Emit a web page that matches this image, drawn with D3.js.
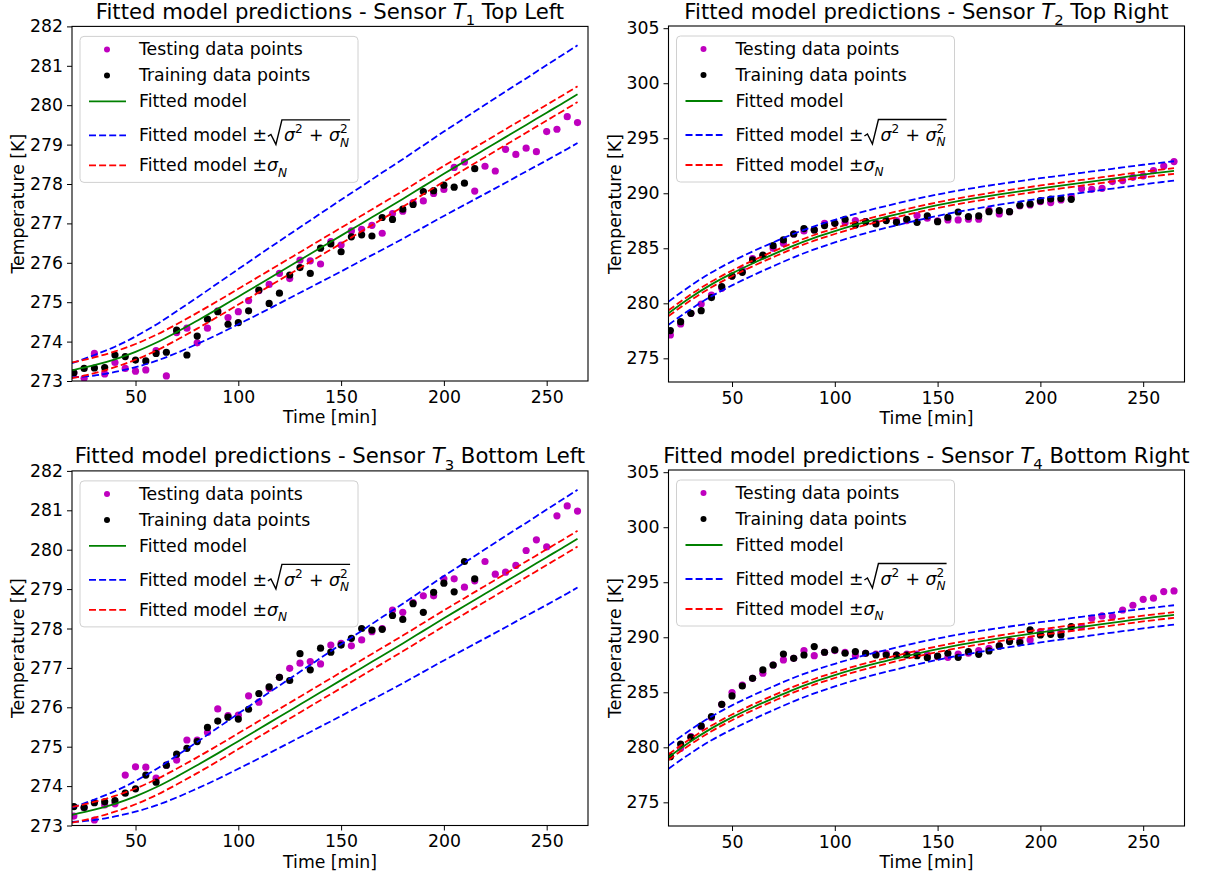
<!DOCTYPE html>
<html><head><meta charset="utf-8">
<script src="https://cdn.jsdelivr.net/npm/d3@7"></script>
<style>
body{margin:0;background:#fff}
svg{display:block}
text{font-family:"DejaVu Sans","Liberation Sans",sans-serif;white-space:pre}
</style>
</head><body>
<svg id="chart" width="1205" height="877"></svg>
<script>
// ---------- data ----------
const timeTest = [20,25,30,35,40,45,50,55,60,65,70,75,80,85,90,95,100,105,110,115,120,125,130,135,140,145,150,155,160,165,170,175,180,185,190,195,200,205,210,215,220,225,230,235,240,245,250,255,260,265];
const timeTrain = [20,25,30,35,40,45,50,55,60,65,70,75,80,85,90,95,100,105,110,115,120,125,130,135,140,145,150,155,160,165,170,175,180,185,190,195,200,205,210,215];

// Sensor T1 (top left)
const test1 = [273.20,273.07,273.70,273.18,273.47,273.32,273.25,273.28,273.77,273.13,
  274.23,274.34,273.97,274.34,274.78,274.61,274.76,275.04,275.29,275.45,
  275.73,275.60,276.07,276.05,275.97,276.54,276.45,276.81,276.85,276.95,
  276.75,277.25,277.31,277.53,277.57,277.76,277.86,278.42,278.56,277.82,
  278.45,278.33,278.88,278.75,278.91,278.82,279.33,279.39,279.71,279.56];
const train1 = [273.21,273.32,273.33,273.34,273.66,273.62,273.53,273.51,273.70,273.73,
  274.29,273.66,274.14,274.57,274.76,274.44,274.48,274.78,275.31,274.97,
  275.23,275.69,275.88,275.73,276.37,276.48,276.28,276.66,276.71,276.68,
  277.15,277.10,277.36,277.48,277.81,277.83,277.97,277.92,278.02,278.39];

// Sensor T2 (top right)
const test2 = [277.12,278.12,279.09,279.94,280.75,281.36,282.48,283.03,284.06,284.30,
  285.00,285.45,286.30,286.58,286.67,287.27,287.27,287.33,287.52,287.42,
  287.33,287.58,287.52,287.52,287.97,287.73,287.50,287.58,287.58,287.64,
  287.64,288.48,288.12,288.33,288.85,288.94,289.24,289.15,289.39,289.70,
  290.42,290.36,290.45,291.06,291.15,291.45,291.58,292.06,292.48,292.88];
const train2 = [277.52,278.33,279.09,279.33,280.52,281.52,282.48,282.82,283.94,284.39,
  285.24,285.76,286.30,286.79,286.67,287.06,287.27,287.64,287.12,287.42,
  287.21,287.52,287.36,287.64,287.36,287.94,287.42,287.82,288.30,287.88,
  287.94,288.33,288.42,288.33,288.91,289.03,289.33,289.48,289.52,289.45];

// Sensor T3 (bottom left)
const test3 = [273.24,273.45,273.14,273.52,273.55,274.28,274.49,274.48,274.20,274.53,
  274.66,275.17,275.17,275.36,275.96,275.79,275.80,276.29,276.13,276.48,
  276.76,276.99,277.12,277.16,277.10,277.58,277.62,277.56,277.71,277.92,
  278.00,278.47,278.41,278.66,278.83,278.83,279.26,279.26,279.05,279.21,
  279.70,279.38,279.43,279.60,279.98,280.25,280.07,280.86,281.11,280.98];
const train3 = [273.48,273.46,273.58,273.60,273.63,273.82,273.93,274.28,274.10,274.53,
  274.81,274.96,275.13,275.49,275.65,275.75,275.70,275.95,276.35,276.52,
  276.76,276.68,277.36,276.95,277.50,277.40,277.58,277.75,278.00,277.96,
  277.98,278.33,278.23,278.63,278.41,278.92,279.15,278.93,279.70,279.26];

// Sensor T4 (bottom right)
const test4 = [279.21,279.91,280.97,281.88,282.70,283.90,284.97,285.66,286.27,286.73,
  287.48,287.94,288.09,288.79,288.33,288.64,288.79,288.64,288.33,288.55,
  288.48,288.55,288.39,288.48,288.48,288.39,288.24,288.18,288.48,288.55,
  288.79,289.00,289.21,289.70,289.70,289.76,290.52,290.52,290.52,290.82,
  290.97,291.73,291.94,291.88,292.48,292.91,293.45,293.55,294.15,294.21];
const train4 = [279.15,280.30,280.91,281.94,282.79,283.91,284.67,285.57,286.27,287.03,
  287.48,288.48,288.09,288.39,289.15,288.64,288.85,288.55,288.70,288.55,
  288.39,288.39,288.39,288.39,288.33,288.15,288.30,288.55,288.18,288.70,
  288.45,288.76,289.21,289.61,289.52,290.67,290.21,290.27,290.21,290.97];

// fitted model curves
const modelTime = [19.1,30,40,50,60,70,80,90,100,110,120,130,140,150,160,170,180,190,200,210,220,230,240,250,260,265];
const modelA = [273.27,273.40,273.55,273.74,273.97,274.24,274.53,274.83,275.14,275.45,275.76,276.07,276.38,276.69,277.00,277.31,277.62,277.94,278.26,278.57,278.88,279.19,279.50,279.81,280.12,280.28];
const sigmaTotA = [0.18,0.26,0.32,0.39,0.46,0.53,0.59,0.65,0.70,0.75,0.79,0.83,0.87,0.91,0.94,0.98,1.01,1.04,1.07,1.10,1.13,1.16,1.18,1.21,1.23,1.24];
const sigmaNA = 0.2;
const modelB = [279.10,280.55,281.72,282.72,283.62,284.45,285.25,285.95,286.56,287.12,287.62,288.08,288.52,288.92,289.28,289.60,289.90,290.18,290.45,290.70,290.95,291.20,291.45,291.70,291.92,292.03];
const sigmaTotB = [1.05,1.07,1.08,1.09,1.09,1.08,1.07,1.05,1.03,1.01,1.00,0.99,0.98,0.97,0.96,0.95,0.94,0.93,0.92,0.91,0.91,0.90,0.90,0.89,0.88,0.88];
const sigmaNB = 0.26;

const xTicks = [50,100,150,200,250];
const yTicksA = [273,274,275,276,277,278,279,280,281,282];
const yTicksB = [275,280,285,290,295,300,305];
const sensorNames = ["1 Top Left","2 Top Right","3 Bottom Left","4 Bottom Right"];
const legendLabels = ["Testing data points","Training data points","Fitted model"];

// ---------- layout ----------
const svg = d3.select("#chart");
const FS = 17.3;
const TFS = 21.2;
const C = {test:"#bf00bf", train:"#000000", model:"#008000", tot:"#0000ff", noise:"#ff0000"};

const panels = [
  {L:72,   R:588,    T:26.4, B:381,  yd:[273,282],     yt:yTicksA, test:test1, train:train1, model:modelA, st:sigmaTotA, sn:sigmaNA, sensor:sensorNames[0]},
  {L:668.5,R:1184.5, T:26,   B:382,  yd:[272.85,305.2],yt:yTicksB, test:test2, train:train2, model:modelB, st:sigmaTotB, sn:sigmaNB, sensor:sensorNames[1]},
  {L:72,   R:588,    T:470.9,B:825.5,yd:[273,282],     yt:yTicksA, test:test3, train:train3, model:modelA, st:sigmaTotA, sn:sigmaNA, sensor:sensorNames[2]},
  {L:668.5,R:1184.5, T:470,  B:826,  yd:[272.85,305.2],yt:yTicksB, test:test4, train:train4, model:modelB, st:sigmaTotB, sn:sigmaNB, sensor:sensorNames[3]}
];

// math-ish text helper: pieces laid out left to right
function mathText(parent, pieces, x, y, size) {
  const g = parent.append("g").attr("transform", `translate(${x},${y})`);
  let cx = 0, stackW = 0;
  pieces.forEach(p => {
    const small = p.sub || p.sup;
    const fs = small ? size*0.7 : size;
    const dy = p.sub ? size*0.3 : (p.sup ? -size*0.48 : 0);
    const t = g.append("text").attr("x", cx).attr("y", dy)
      .attr("font-size", fs).attr("font-style", p.it ? "italic" : "normal")
      .attr("fill", "#000").text(p.t);
    const w = t.node().getComputedTextLength();
    if (p.stack) { stackW = w; }
    else { cx += Math.max(w, stackW); stackW = 0; }
    if (p.gap) cx += p.gap;
  });
  return {g, width: cx};
}

panels.forEach((P, pi) => {
  const x = d3.scaleLinear().domain([19.1, 270.1]).range([P.L, P.R]);
  const y = d3.scaleLinear().domain(P.yd).range([P.B, P.T]);
  const g = svg.append("g");
  const clipId = "clip" + pi;
  svg.append("clipPath").attr("id", clipId).append("rect")
    .attr("x", P.L).attr("y", P.T).attr("width", P.R - P.L).attr("height", P.B - P.T);
  const plot = g.append("g").attr("clip-path", `url(#${clipId})`);

  // scatter: testing then training
  plot.append("g").selectAll("circle").data(P.test).join("circle")
    .attr("cx", (d,i) => x(timeTest[i])).attr("cy", d => y(d)).attr("r", 3.6).attr("fill", C.test);
  plot.append("g").selectAll("circle").data(P.train).join("circle")
    .attr("cx", (d,i) => x(timeTrain[i])).attr("cy", d => y(d)).attr("r", 3.6).attr("fill", C.train);

  const line = d3.line().x(d => x(d[0])).y(d => y(d[1])).curve(d3.curveMonotoneX);
  const mk = f => modelTime.map((t,i) => [t, f(i)]);
  const sn = P.sn;
  plot.append("path").attr("d", line(mk(i => P.model[i]))).attr("fill","none").attr("stroke",C.model).attr("stroke-width",1.8);
  [1,-1].forEach(s => plot.append("path").attr("d", line(mk(i => P.model[i] + s*P.st[i])))
      .attr("fill","none").attr("stroke",C.tot).attr("stroke-width",1.8).attr("stroke-dasharray","7,3.1"));
  [1,-1].forEach(s => plot.append("path").attr("d", line(mk(i => P.model[i] + s*sn)))
      .attr("fill","none").attr("stroke",C.noise).attr("stroke-width",1.8).attr("stroke-dasharray","7,3.1"));

  // axes
  const xa = g.append("g").attr("transform", `translate(0,${P.B})`)
    .call(d3.axisBottom(x).tickValues(xTicks).tickSize(5).tickPadding(4).tickFormat(d3.format("d")));
  const ya = g.append("g").attr("transform", `translate(${P.L},0)`)
    .call(d3.axisLeft(y).tickValues(P.yt).tickSize(5).tickPadding(4).tickFormat(d3.format("d")));
  [xa, ya].forEach(a => {
    a.select(".domain").remove();
    a.selectAll("line").attr("stroke","#000").attr("stroke-width",1);
    a.selectAll("text").attr("font-size", FS).attr("fill","#000")
      .attr("font-family","DejaVu Sans, sans-serif");
  });
  xa.selectAll("text").attr("dy", "0.74em");
  g.append("rect").attr("x", P.L).attr("y", P.T).attr("width", P.R-P.L).attr("height", P.B-P.T)
    .attr("fill","none").attr("stroke","#000").attr("stroke-width",1.1);

  // axis labels
  g.append("text").attr("x", (P.L+P.R)/2).attr("y", P.B + 42).attr("text-anchor","middle")
    .attr("font-size", FS).text("Time [min]");
  g.append("text").attr("transform", `translate(${P.L-48},${(P.T+P.B)/2}) rotate(-90)`)
    .attr("text-anchor","middle").attr("font-size", FS).text("Temperature [K]");

  // title
  const num = P.sensor.split(" ")[0];
  const rest = P.sensor.slice(num.length);
  const tt = mathText(g, [
    {t:"Fitted model predictions - Sensor "},{t:"T", it:1},{t:num, sub:1},{t:rest}
  ], 0, P.T - 7.5, TFS);
  tt.g.attr("transform", `translate(${(P.L+P.R)/2 - tt.width/2},${P.T - 7.5})`);

  // legend
  const lx = P.L + 8, ly = P.T + 10;
  const lg = g.append("g");
  lg.append("rect").attr("x", lx).attr("y", ly).attr("width", 278).attr("height", 146).attr("rx", 4)
    .attr("fill","#fff").attr("fill-opacity",0.8).attr("stroke","#d0d0d0").attr("stroke-width",1);
  const rows = [P.T+23, P.T+49, P.T+75, P.T+109, P.T+139];
  const hx0 = P.L + 17, hx1 = P.L + 54, tx = P.L + 67;
  lg.append("circle").attr("cx", P.L+35).attr("cy", rows[0]).attr("r", 3).attr("fill", C.test);
  lg.append("circle").attr("cx", P.L+35).attr("cy", rows[1]).attr("r", 3).attr("fill", C.train);
  lg.append("line").attr("x1",hx0).attr("x2",hx1).attr("y1",rows[2]).attr("y2",rows[2]).attr("stroke",C.model).attr("stroke-width",1.8);
  lg.append("line").attr("x1",hx0).attr("x2",hx1).attr("y1",rows[3]).attr("y2",rows[3]).attr("stroke",C.tot).attr("stroke-width",1.8).attr("stroke-dasharray","7,3.1");
  lg.append("line").attr("x1",hx0).attr("x2",hx1).attr("y1",rows[4]).attr("y2",rows[4]).attr("stroke",C.noise).attr("stroke-width",1.8).attr("stroke-dasharray","7,3.1");
  legendLabels.forEach((s,i) => lg.append("text").attr("x", tx).attr("y", rows[i] + 6).attr("font-size", FS).text(s));

  // blue label with radical
  const b1 = mathText(lg, [{t:"Fitted model ±"}], tx, rows[3] + 6, FS);
  const rx0 = tx + b1.width + 1;
  const by = rows[3] + 6;
  const inner = mathText(lg, [
    {t:"σ", it:1},{t:"2", sup:1, gap:1},{t:" + "},{t:"σ", it:1},{t:"N", sub:1, it:1, stack:1},{t:"2", sup:1}
  ], rx0 + 16, by, FS);
  lg.append("path")
    .attr("d", `M${rx0},${by-5} L${rx0+3},${by-7} L${rx0+8},${by+3} L${rx0+14},${by-21.5} H${rx0+16+inner.width+1}`)
    .attr("fill","none").attr("stroke","#000").attr("stroke-width",1.4);

  // red label
  mathText(lg, [{t:"Fitted model ±"},{t:"σ", it:1},{t:"N", sub:1, it:1}], tx, rows[4] + 6, FS);
});
</script>
</body></html>
